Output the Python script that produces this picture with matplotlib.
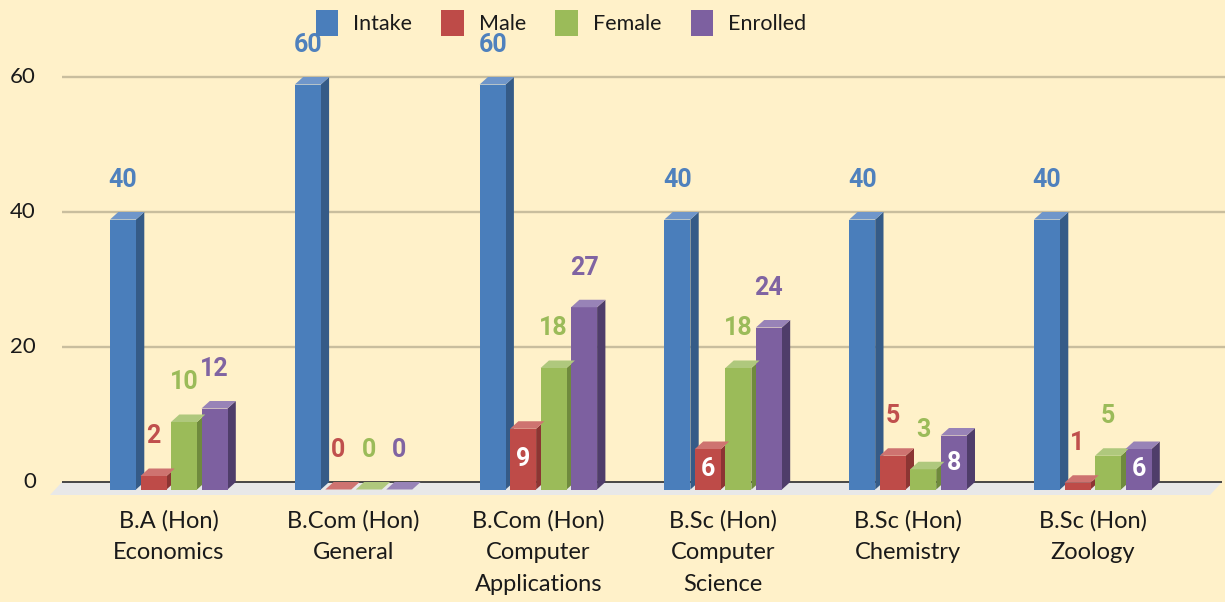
import matplotlib
matplotlib.use("Agg")
import matplotlib.pyplot as plt
from matplotlib.patches import Polygon, Patch

# data
categories = ["B.A (Hon)\nEconomics", "B.Com (Hon)\nGeneral",
              "B.Com (Hon)\nComputer\nApplications", "B.Sc (Hon)\nComputer\nScience",
              "B.Sc (Hon)\nChemistry", "B.Sc (Hon)\nZoology"]
series = ["Intake", "Male", "Female", "Enrolled"]
intake = [40, 60, 60, 40, 40, 40]
male = [2, 0, 9, 6, 5, 1]
female = [10, 0, 18, 18, 3, 5]
enrolled = [12, 0, 27, 24, 8, 6]
yticks = [0, 20, 40, 60]

values = [intake, male, female, enrolled]
# (front, side, top) shades per series
shades = [("#4A7EBB", "#355B87", "#6F96CA"),
          ("#BE4B48", "#8C3533", "#CE7370"),
          ("#9BBB59", "#6F8A3D", "#AFC87D"),
          ("#7D60A0", "#4F3D6A", "#9883B7")]
label_colors = ["#4F81BD", "#C0504D", "#9BBB59", "#8064A2"]
# labels drawn inside the bar in white: (category, series)
inside = [(2, 1), (3, 1), (4, 3), (5, 3)]

bg = "#FFF1C9"
fig = plt.figure(figsize=(12.25, 6.02), dpi=100, facecolor=bg)
ax = fig.add_axes([0, 0, 1, 1])
ax.set_facecolor(bg)

px_x = 184.8   # pixels per category
px_y = 6.75    # pixels per value unit
ax.set_xlim(-168.75 / px_x, (1225 - 168.75) / px_x)
ax.set_ylim((482 - 602) / px_y, 482 / px_y)
ax.axis("off")

dx = 8.3 / px_x     # depth of the bars
dy = 7.5 / px_y
step = 30.5 / px_x
width = 26 / px_x

x_left = (62 - 168.75) / px_x
x_right = (1222 - 168.75) / px_x

# floor
fdx = 12 / px_x
fdy = 13 / px_y
ax.add_patch(Polygon([(x_left, 0), (x_right, 0), (x_right - fdx, -fdy),
                      (x_left - fdx, -fdy)], closed=True, facecolor="#E8E8E8",
                     edgecolor="none", zorder=1))

# gridlines
ax.hlines([t for t in yticks if t > 0], x_left, ax.get_xlim()[1],
          color="#C9BE9E", lw=1.7, zorder=0)
ax.hlines(0, x_left, x_right, color="#3A3A3A", lw=1.3, zorder=1.5)

for t in yticks:
    ax.text((36 - 168.75) / px_x, t, str(t), ha="right", va="center",
            fontsize=16, family="Lato", color="#1A1A1A")

for j, vals in enumerate(values):
    front, side, top = shades[j]
    xs = [i + (j - 1.5) * step for i in range(len(categories))]
    ax.bar(xs, vals, bottom=-dy, width=width, color=front, zorder=3 + j * 0.01)
    for i, (x, v) in enumerate(zip(xs, vals)):
        l, r = x - width / 2, x + width / 2
        ft = v - dy
        ax.add_patch(Polygon([(r, -dy), (r, ft), (r + dx, v), (r + dx, 0)],
                             closed=True, facecolor=side, edgecolor="none", zorder=2.9))
        ax.add_patch(Polygon([(l, ft), (r, ft), (r + dx, v), (l + dx, v)],
                             closed=True, facecolor=top, edgecolor="none", zorder=3.5))
        if (i, j) in inside:
            ax.text(x, v / 2 - dy, str(v), ha="center", va="center", color="white",
                    fontsize=18, fontweight="bold", family="Roboto", zorder=5)
        else:
            ax.text(x, v + 4.75, str(v), ha="center", va="center",
                    color=label_colors[j], fontsize=18, fontweight="bold",
                    family="Roboto", zorder=5)

for i, c in enumerate(categories):
    ax.text(i, (482 - 510) / px_y, c, ha="center", va="top", fontsize=17,
            family="Lato", color="#1A1A1A", linespacing=1.63)

handles = [Patch(facecolor=s[0], edgecolor="none") for s in shades]
ax.legend(handles, series, loc="center", bbox_to_anchor=(561 / 1225, 1 - 23 / 602),
          ncol=4, frameon=False, prop={"family": "Lato", "size": 15.5},
          handlelength=1.05, handleheight=1.45, handletextpad=0.7,
          columnspacing=1.35, labelcolor="#1A1A1A")

fig.savefig("out.png", dpi=100, facecolor=bg)
